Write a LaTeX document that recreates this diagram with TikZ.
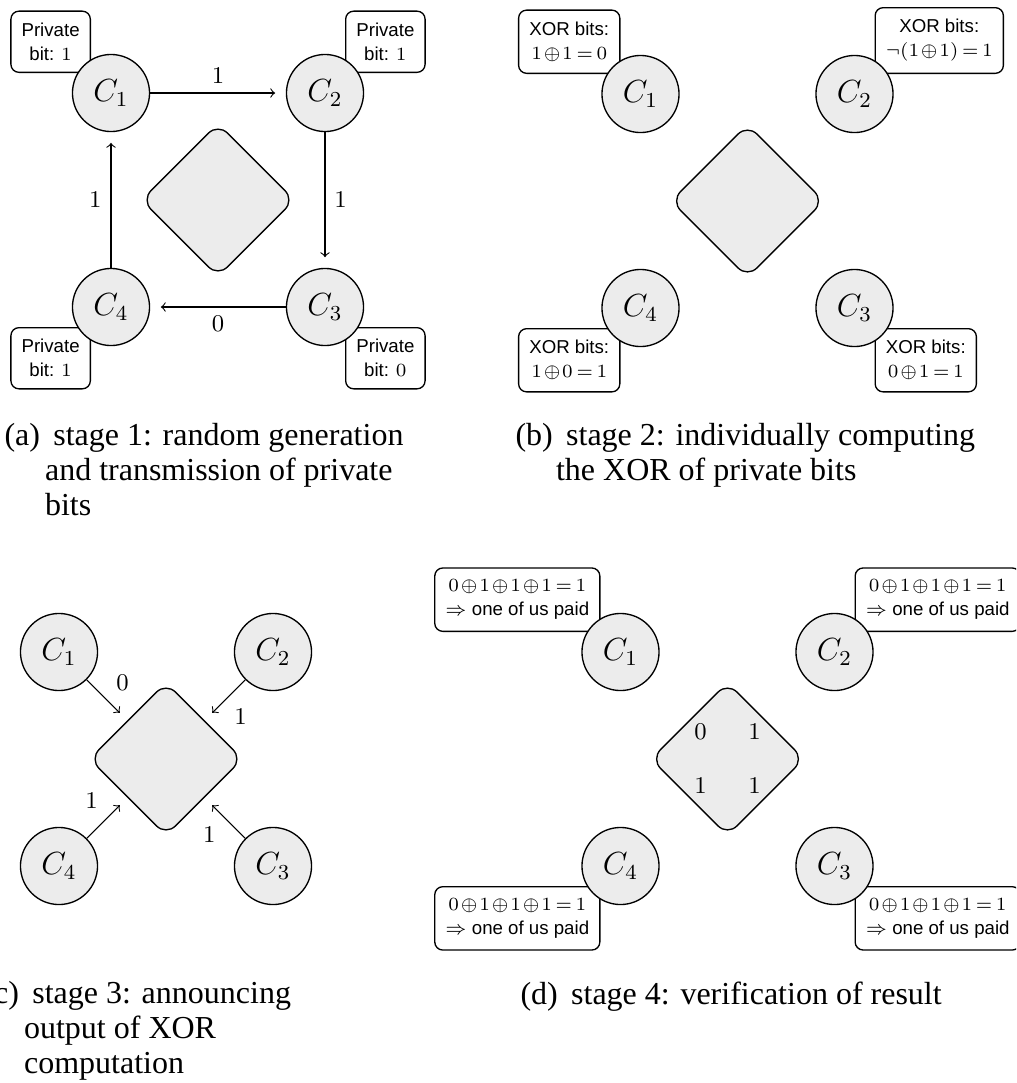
\documentclass[tikz,border=0pt]{standalone}
\usepackage{fontspec}
\setmainfont{Liberation Serif}
\setsansfont{Liberation Sans}
\usetikzlibrary{shapes.geometric}

% digits and round brackets in math from the text serif, tight sums
\DeclareSymbolFont{serifdigits}{TU}{\rmdefault}{m}{n}
\DeclareMathSymbol{0}{\mathord}{serifdigits}{`0}
\DeclareMathSymbol{1}{\mathord}{serifdigits}{`1}
\DeclareMathSymbol{2}{\mathord}{serifdigits}{`2}
\DeclareMathSymbol{3}{\mathord}{serifdigits}{`3}
\DeclareMathSymbol{4}{\mathord}{serifdigits}{`4}
\DeclareMathSymbol{(}{\mathopen}{serifdigits}{`(}
\DeclareMathSymbol{)}{\mathclose}{serifdigits}{`)}
\medmuskip=1.5mu
\thickmuskip=3mu

\begin{document}
\begin{tikzpicture}[x=0.375pt, y=-0.375pt,
    party/.style={circle, draw, line width=0.5pt, fill=gray!15, minimum size=28.9pt, inner sep=0pt, font=\fontsize{11.5}{13}\selectfont},
    hub/.style={diamond, draw, line width=0.5pt, fill=gray!15, minimum width=57.5pt, minimum height=57.5pt, inner sep=0pt, rounded corners=5pt},
    note/.style={rectangle, draw, line width=0.5pt, fill=white, rounded corners=3pt, inner xsep=4pt, inner ysep=4.4pt, align=center, font=\sffamily\fontsize{7}{9}\selectfont},
    msg/.style={->, shorten >=4pt},
    bitfont/.style={font=\fontsize{9.5}{11}\selectfont},
    capt/.style={anchor=north west, inner sep=0pt, align=left, font=\fontsize{12}{13.1}\selectfont}]

    % Fix the page and cut what runs over its edges
    \useasboundingbox (0,0) rectangle (1016,1083);
    \clip (0,0) rectangle (1016,1083);

    % Stage 1
    \begin{scope}[shift={(218,200)}]
        % Define coordinates
        \coordinate (pa1) at (-107,-107);
        \coordinate (pa2) at (107,-107);
        \coordinate (pa3) at (107,107);
        \coordinate (pa4) at (-107,107);

        % Draw the notes first, the circles cover their corners
        \node[note, anchor=south east] (ta1) at ([shift={(-20,-20)}]pa1) {Private\\bit: $1$};
        \node[note, anchor=south west] (ta2) at ([shift={(20,-20)}]pa2) {Private\\bit: $1$};
        \node[note, anchor=north west] (ta3) at ([shift={(20,20)}]pa3) {Private\\bit: $0$};
        \node[note, anchor=north east] (ta4) at ([shift={(-20,20)}]pa4) {Private\\bit: $1$};

        \node[hub] (ha) at (0,0) {};
        \node[party] (a1) at (pa1) {$C_1$};
        \node[party] (a2) at (pa2) {$C_2$};
        \node[party] (a3) at (pa3) {$C_3$};
        \node[party] (a4) at (pa4) {$C_4$};

        % Draw the passed bits
        \draw[msg] (a1) -- node[auto, bitfont] {$1$} (a2);
        \draw[msg] (a2) -- node[auto, bitfont] {$1$} (a3);
        \draw[msg] (a3) -- node[auto, bitfont] {$0$} (a4);
        \draw[msg] (a4) -- node[auto, bitfont] {$1$} (a1);
    \end{scope}
    \node[capt] (capa) at (4,423) {(a)\hspace{5pt}stage 1: random generation\\\hspace*{15.2pt}and transmission of private\\\hspace*{15.2pt}bits};

    % Stage 2
    \begin{scope}[shift={(747.5,201)}]
        % Define coordinates
        \coordinate (pb1) at (-107,-107);
        \coordinate (pb2) at (107,-107);
        \coordinate (pb3) at (107,107);
        \coordinate (pb4) at (-107,107);

        \node[note, anchor=south east] (tb1) at ([shift={(-20,-20)}]pb1) {XOR bits:\\$1\oplus1=0$};
        \node[note, anchor=south west] (tb2) at ([shift={(20,-20)}]pb2) {XOR bits:\\$\neg(1\oplus1)=1$};
        \node[note, anchor=north west] (tb3) at ([shift={(20,20)}]pb3) {XOR bits:\\$0\oplus1=1$};
        \node[note, anchor=north east] (tb4) at ([shift={(-20,20)}]pb4) {XOR bits:\\$1\oplus0=1$};

        \node[hub] (hb) at (0,0) {};
        \node[party] (b1) at (pb1) {$C_1$};
        \node[party] (b2) at (pb2) {$C_2$};
        \node[party] (b3) at (pb3) {$C_3$};
        \node[party] (b4) at (pb4) {$C_4$};
    \end{scope}
    \node[capt] (capb) at (515,423) {(b)\hspace{5pt}stage 2: individually computing\\\hspace*{15.2pt}the XOR of private bits};

    % Stage 3
    \begin{scope}[shift={(166,759)}]
        \node[hub] (hc) at (0,0) {};
        \node[party] (c1) at (-107,-107) {$C_1$};
        \node[party] (c2) at (107,-107) {$C_2$};
        \node[party] (c3) at (107,107) {$C_3$};
        \node[party] (c4) at (-107,107) {$C_4$};

        % Draw the announced bits
        \draw[msg] (c1) -- node[auto, bitfont] {$0$} (hc);
        \draw[msg] (c2) -- node[auto, bitfont] {$1$} (hc);
        \draw[msg] (c3) -- node[auto, bitfont] {$1$} (hc);
        \draw[msg] (c4) -- node[auto, bitfont] {$1$} (hc);
    \end{scope}
    \node[capt] (capc) at (-17,981) {(c)\hspace{5pt}stage 3: announcing\\\hspace*{15.2pt}output of XOR\\\hspace*{15.2pt}computation};

    % Stage 4
    \begin{scope}[shift={(727.5,759)}]
        % Define coordinates
        \coordinate (pd1) at (-107,-107);
        \coordinate (pd2) at (107,-107);
        \coordinate (pd3) at (107,107);
        \coordinate (pd4) at (-107,107);

        \node[note, anchor=south east] (td1) at ([shift={(-20,-20)}]pd1) {$0\oplus1\oplus1\oplus1=1$\\$\Rightarrow$ one of us paid};
        \node[note, anchor=south west] (td2) at ([shift={(20,-20)}]pd2) {$0\oplus1\oplus1\oplus1=1$\\$\Rightarrow$ one of us paid};
        \node[note, anchor=north west] (td3) at ([shift={(20,20)}]pd3) {$0\oplus1\oplus1\oplus1=1$\\$\Rightarrow$ one of us paid};
        \node[note, anchor=north east] (td4) at ([shift={(-20,20)}]pd4) {$0\oplus1\oplus1\oplus1=1$\\$\Rightarrow$ one of us paid};

        \node[hub] (hd) at (0,0) {};
        \node[party] (d1) at (pd1) {$C_1$};
        \node[party] (d2) at (pd2) {$C_2$};
        \node[party] (d3) at (pd3) {$C_3$};
        \node[party] (d4) at (pd4) {$C_4$};

        % Bits on the board
        \node[bitfont] (hd1) at ([shift={(-27,-27)}]hd) {$0$};
        \node[bitfont] (hd2) at ([shift={(27,-27)}]hd) {$1$};
        \node[bitfont] (hd3) at ([shift={(27,27)}]hd) {$1$};
        \node[bitfont] (hd4) at ([shift={(-27,27)}]hd) {$1$};
    \end{scope}
    \node[capt] (capd) at (520,981) {(d)\hspace{5pt}stage 4: verification of result};

\end{tikzpicture}
\end{document}
